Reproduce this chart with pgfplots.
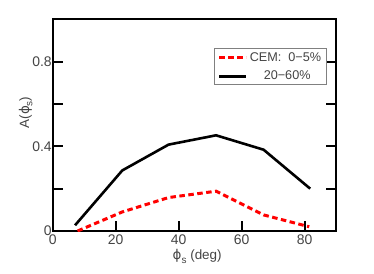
\documentclass[border=0pt]{standalone}
\usepackage{pgfplots}
\pgfplotsset{compat=1.18}
\usepackage{fontspec}
\setmainfont{Liberation Sans}
\newfontfamily\dejavu{DejaVu Sans}
\definecolor{txtgray}{HTML}{444444}
\begin{document}
\begin{tikzpicture}
\begin{axis}[
  at={(0,0)}, anchor=south west,
  scale only axis, width=283.3bp, height=211.7bp,
  xmin=0, xmax=90, ymin=0, ymax=1.0,
  xtick={0,20,40,60,80},
  ytick={0,0.2,0.4,0.6,0.8},
  yticklabels={{0\hspace{9bp}},,0.4,,0.8},
  xtick pos=lower, ytick pos=both,
  major tick length=0bp,
  axis line style={line width=2bp},
  tick label style={font=\fontsize{14}{16}\selectfont, text=txtgray},
  /pgf/number format/assume math mode=true,
  xticklabel style={yshift=-0.5bp},
  yticklabel style={xshift=2.5bp},
  xlabel={{\dejavu ϕ}\raisebox{-0.45ex}{\fontsize{10}{12}\selectfont s} (deg)},
  ylabel={A({\dejavu ϕ}\raisebox{-0.45ex}{\fontsize{10}{12}\selectfont s})},
  label style={font=\fontsize{13.5}{16}\selectfont, text=txtgray},
  xlabel style={at={(axis description cs:0.51,-0.12)}, anchor=center},
  ylabel style={at={(axis description cs:-0.095,0.56)}, anchor=center},
  legend style={at={(axis description cs:0.967,0.863)}, anchor=north east,
    draw=gray, line width=1bp, font=\fontsize{12.7}{15}\selectfont, text=txtgray,
    inner xsep=3bp, inner ysep=1.5bp, row sep=4.5bp},
  legend cell align=left,
  legend image code/.code={\draw[#1] (0cm,0cm) -- (27bp,0cm);},
]
\draw[line width=2bp] (axis cs:0,0.2) -- ++(10bp,0);
\draw[line width=2bp] (axis cs:0,0.4) -- ++(10bp,0);
\draw[line width=2bp] (axis cs:0,0.6) -- ++(10bp,0);
\draw[line width=2bp] (axis cs:0,0.8) -- ++(10bp,0);
\draw[line width=2bp] (axis cs:90,0.2) -- ++(-10bp,0);
\draw[line width=2bp] (axis cs:90,0.4) -- ++(-10bp,0);
\draw[line width=2bp] (axis cs:90,0.6) -- ++(-10bp,0);
\draw[line width=2bp] (axis cs:90,0.8) -- ++(-10bp,0);
\draw[line width=2bp] (axis cs:20,0) -- ++(0,10bp);
\draw[line width=2bp] (axis cs:40,0) -- ++(0,10bp);
\draw[line width=2bp] (axis cs:60,0) -- ++(0,10bp);
\draw[line width=2bp] (axis cs:80,0) -- ++(0,10bp);
\addplot[red, line width=3bp, dash pattern=on 5.5bp off 3.5bp] coordinates {
  (7.9,0.0) (22.1,0.09) (36.8,0.158) (51.9,0.188) (67,0.076) (81.5,0.02)
};
\addlegendentry{CEM:\ \ 0−5\%}
\addplot[black, line width=2.6bp] coordinates {
  (7.1,0.027) (22.1,0.286) (36.8,0.408) (51.9,0.452) (67,0.384) (81.8,0.2)
};
\addlegendentry{\hspace{14bp}20−60\%}
\end{axis}
\path[use as bounding box] (-52.7bp,-43bp) rectangle (321.3bp,231bp);
\end{tikzpicture}
\end{document}
